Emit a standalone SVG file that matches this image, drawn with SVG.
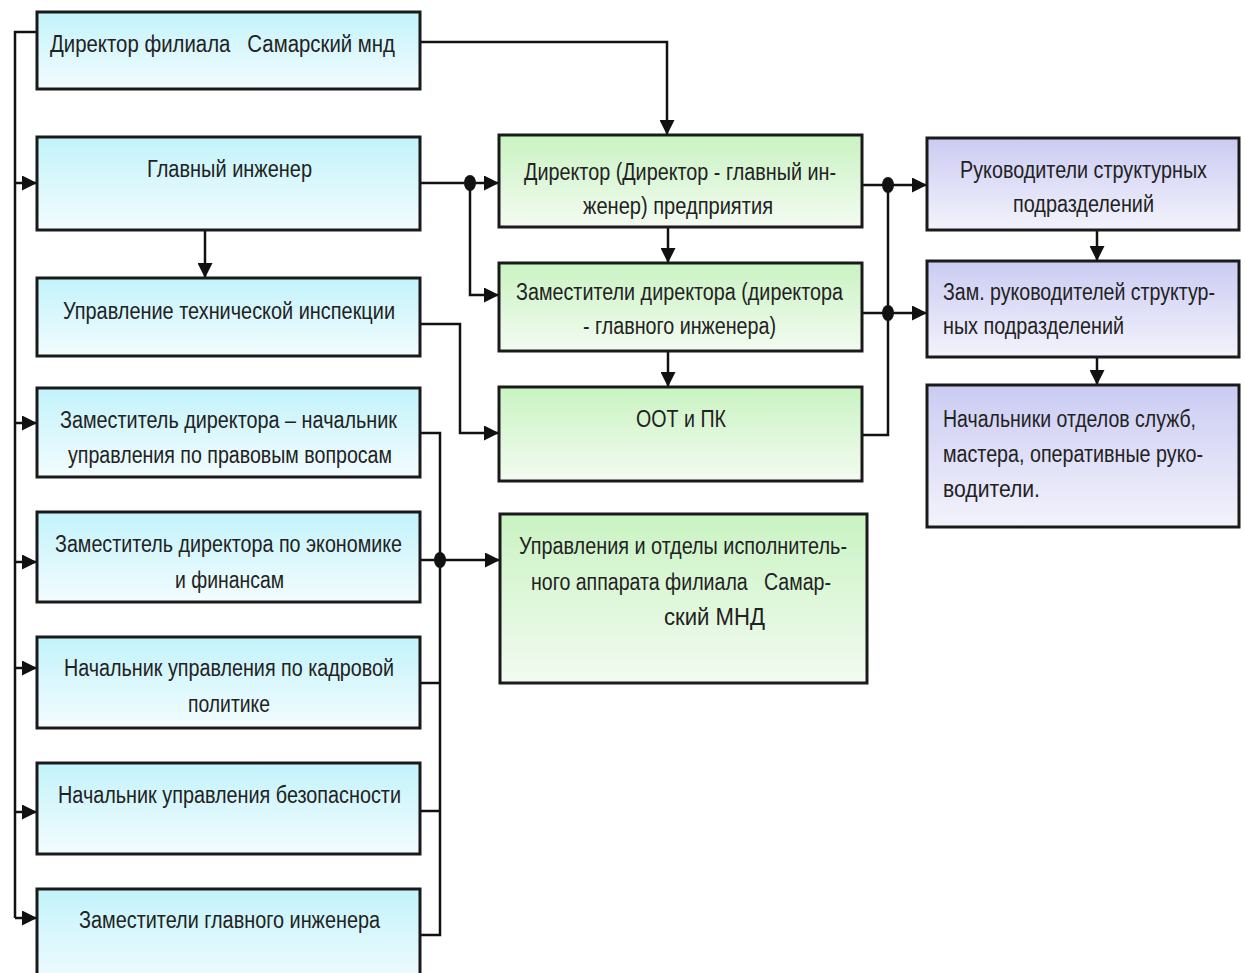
<svg xmlns="http://www.w3.org/2000/svg" width="1245" height="973" viewBox="0 0 1245 973">
<style>
.box{stroke:#1a1a1a;stroke-width:3}
.cy{fill:url(#gCyan)}
.gr{fill:url(#gGreen)}
.vi{fill:url(#gViolet)}
.t{font-family:"Liberation Sans Narrow","Liberation Sans",Arial,sans-serif;font-size:23px;fill:#222;white-space:pre}
.c{fill:none;stroke:#111;stroke-width:2.5}
.a{marker-end:url(#arr)}
.dot{fill:#111}
</style>
<defs>
<linearGradient id="gCyan" x1="0" y1="0" x2="0" y2="1">
<stop offset="0" stop-color="#c2f3fb"/><stop offset="1" stop-color="#f3fcfe"/>
</linearGradient>
<linearGradient id="gGreen" x1="0" y1="0" x2="0" y2="1">
<stop offset="0" stop-color="#c9f3c2"/><stop offset="1" stop-color="#f3fbf1"/>
</linearGradient>
<linearGradient id="gViolet" x1="0" y1="0" x2="0" y2="1">
<stop offset="0" stop-color="#cbcbf3"/><stop offset="1" stop-color="#f3f3fc"/>
</linearGradient>
<marker id="arr" viewBox="0 0 10 10" refX="10" refY="5" markerWidth="15" markerHeight="15" markerUnits="userSpaceOnUse" orient="auto">
<path d="M0,0 L10,5 L0,10 z" fill="#111"/>
</marker>
</defs>
<rect width="1245" height="973" fill="#ffffff"/>

<g id="connectors">
<path class="c" d="M37,32 H15 V918"/>
<path class="c a" d="M15,183 H37"/>
<path class="c a" d="M15,423 H37"/>
<path class="c a" d="M15,562 H37"/>
<path class="c a" d="M15,668 H37"/>
<path class="c a" d="M15,812 H37"/>
<path class="c a" d="M15,918 H37"/>
<path class="c a" d="M420,42 H667 V135"/>
<path class="c a" d="M420,183 H499"/>
<path class="c a" d="M470,183 V295 H499"/>
<ellipse class="dot" cx="470" cy="183" rx="6" ry="8"/>
<path class="c a" d="M205,230 V278"/>
<path class="c a" d="M668,227 V263"/>
<path class="c a" d="M668,351 V387"/>
<path class="c a" d="M420,324 H460 V433 H499"/>
<path class="c" d="M420,433 H440 V935 H420"/>
<path class="c" d="M420,683 H440"/>
<path class="c" d="M420,811 H440"/>
<path class="c a" d="M420,560 H500"/>
<ellipse class="dot" cx="440" cy="560" rx="6" ry="8"/>
<path class="c a" d="M862,185 H927"/>
<path class="c a" d="M862,313 H927"/>
<path class="c" d="M862,435 H888 V185"/>
<ellipse class="dot" cx="888" cy="185" rx="6" ry="8"/>
<ellipse class="dot" cx="888" cy="313" rx="6" ry="8"/>
<path class="c a" d="M1097,230 V261"/>
<path class="c a" d="M1097,357 V385"/>
</g>

<g id="n-director-filial">
<rect class="box cy" x="37" y="12" width="383" height="77"/>
<text class="t" x="50" y="52" textLength="345" lengthAdjust="spacingAndGlyphs" xml:space="preserve">Директор филиала   Самарский мнд</text>
</g>
<g id="n-glav-inzh">
<rect class="box cy" x="37" y="137" width="383" height="93"/>
<text class="t" x="147" y="177" textLength="165" lengthAdjust="spacingAndGlyphs">Главный инженер</text>
</g>
<g id="n-tech-insp">
<rect class="box cy" x="37" y="278" width="383" height="78"/>
<text class="t" x="63" y="319" textLength="332" lengthAdjust="spacingAndGlyphs">Управление технической инспекции</text>
</g>
<g id="n-zam-prav">
<rect class="box cy" x="37" y="388" width="383" height="89"/>
<text class="t" x="60" y="428" textLength="337" lengthAdjust="spacingAndGlyphs">Заместитель директора – начальник</text>
<text class="t" x="68" y="463" textLength="324" lengthAdjust="spacingAndGlyphs">управления по правовым вопросам</text>
</g>
<g id="n-zam-econ">
<rect class="box cy" x="37" y="512" width="383" height="90"/>
<text class="t" x="55" y="552" textLength="347" lengthAdjust="spacingAndGlyphs">Заместитель директора по экономике</text>
<text class="t" x="175" y="588" textLength="109" lengthAdjust="spacingAndGlyphs">и финансам</text>
</g>
<g id="n-kadr">
<rect class="box cy" x="37" y="637" width="383" height="91"/>
<text class="t" x="64" y="676" textLength="330" lengthAdjust="spacingAndGlyphs">Начальник управления по кадровой</text>
<text class="t" x="188" y="712" textLength="82" lengthAdjust="spacingAndGlyphs">политике</text>
</g>
<g id="n-bezop">
<rect class="box cy" x="37" y="763" width="383" height="91"/>
<text class="t" x="58" y="803" textLength="343" lengthAdjust="spacingAndGlyphs">Начальник управления безопасности</text>
</g>
<g id="n-zam-glav-inzh">
<rect class="box cy" x="37" y="889" width="383" height="100"/>
<text class="t" x="79" y="928" textLength="301" lengthAdjust="spacingAndGlyphs">Заместители главного инженера</text>
</g>

<g id="n-director">
<rect class="box gr" x="499" y="135" width="363" height="92"/>
<text class="t" x="524" y="180" textLength="312" lengthAdjust="spacingAndGlyphs">Директор (Директор - главный ин-</text>
<text class="t" x="583" y="214" textLength="190" lengthAdjust="spacingAndGlyphs">женер) предприятия</text>
</g>
<g id="n-zam-director">
<rect class="box gr" x="499" y="263" width="363" height="88"/>
<text class="t" x="516" y="300" textLength="327" lengthAdjust="spacingAndGlyphs">Заместители директора (директора</text>
<text class="t" x="583" y="334" textLength="193" lengthAdjust="spacingAndGlyphs">- главного инженера)</text>
</g>
<g id="n-oot">
<rect class="box gr" x="499" y="387" width="363" height="94"/>
<text class="t" x="636" y="427" textLength="90" lengthAdjust="spacingAndGlyphs">ООТ и ПК</text>
</g>
<g id="n-upravl">
<rect class="box gr" x="500" y="514" width="367" height="169"/>
<text class="t" x="519" y="554" textLength="328" lengthAdjust="spacingAndGlyphs">Управления и отделы исполнитель-</text>
<text class="t" x="531" y="590" textLength="300" lengthAdjust="spacingAndGlyphs" xml:space="preserve">ного аппарата филиала   Самар-</text>
<text class="t" x="664" y="625" textLength="101" lengthAdjust="spacingAndGlyphs">ский МНД</text>
</g>

<g id="n-ruk">
<rect class="box vi" x="927" y="138" width="312" height="92"/>
<text class="t" x="960" y="178" textLength="247" lengthAdjust="spacingAndGlyphs">Руководители структурных</text>
<text class="t" x="1013" y="212" textLength="141" lengthAdjust="spacingAndGlyphs">подразделений</text>
</g>
<g id="n-zam-ruk">
<rect class="box vi" x="927" y="261" width="312" height="96"/>
<text class="t" x="943" y="300" textLength="272" lengthAdjust="spacingAndGlyphs">Зам. руководителей структур-</text>
<text class="t" x="943" y="334" textLength="181" lengthAdjust="spacingAndGlyphs">ных подразделений</text>
</g>
<g id="n-nach">
<rect class="box vi" x="927" y="385" width="312" height="142"/>
<text class="t" x="943" y="427" textLength="253" lengthAdjust="spacingAndGlyphs">Начальники отделов служб,</text>
<text class="t" x="943" y="462" textLength="260" lengthAdjust="spacingAndGlyphs">мастера, оперативные руко-</text>
<text class="t" x="943" y="497" textLength="97" lengthAdjust="spacingAndGlyphs">водители.</text>
</g>
</svg>
